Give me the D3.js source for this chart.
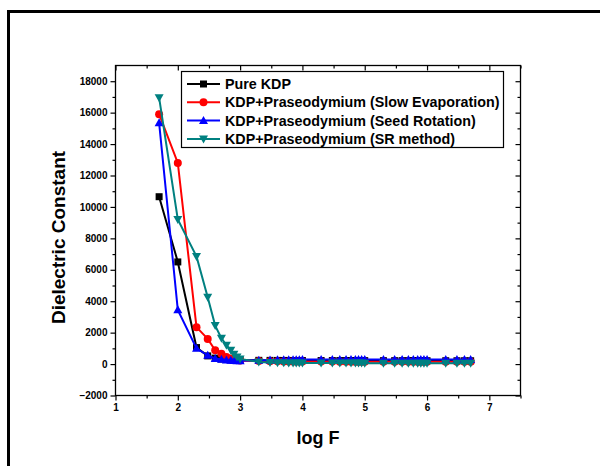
<!DOCTYPE html>
<html>
<head>
<meta charset="utf-8">
<script src="https://cdn.jsdelivr.net/npm/d3@7"></script>
<style>
  body { margin: 0; background: #fff; }
  svg { display: block; font-family: Arial, "Liberation Sans", sans-serif; }
</style>
</head>
<body>
<svg id="chart" width="600" height="466"></svg>
<script>
//  log of frequency, shared by all four samples
const logF = [1.70, 2.00, 2.30, 2.48, 2.60, 2.70, 2.78, 2.85, 2.90, 2.95, 3.00,
  3.30, 3.48, 3.60, 3.70, 3.78, 3.85, 3.90, 3.95, 4.00,
  4.30, 4.48, 4.60, 4.70, 4.78, 4.85, 4.90, 4.95, 5.00,
  5.30, 5.48, 5.60, 5.70, 5.78, 5.85, 5.90, 5.95, 6.00,
  6.30, 6.48, 6.60, 6.70];

const pureKDP = [10650, 6500, 1050, 520, 380, 320, 290, 270, 260, 250, 245,
  238, 235, 232, 230, 229, 228, 227, 226, 225,
  224, 223, 222, 221, 220, 220, 219, 219, 218,
  217, 216, 216, 215, 215, 214, 214, 213, 213,
  212, 211, 210, 210];

const slowEvap = [15900, 12800, 2350, 1600, 880, 650, 450, 350, 300, 260, 230,
  190, 178, 172, 168, 166, 164, 163, 162, 161,
  158, 156, 155, 154, 153, 153, 152, 152, 151,
  150, 149, 149, 148, 148, 147, 147, 146, 146,
  145, 144, 143, 142];

const seedRot = [15350, 3450, 1000, 560, 350, 300, 260, 240, 225, 215, 210,
  250, 265, 272, 276, 278, 280, 281, 282, 283,
  285, 286, 287, 288, 288, 289, 289, 290, 290,
  290, 291, 291, 291, 292, 292, 292, 292, 293,
  293, 293, 294, 294];

const srMethod = [16950, 9200, 6850, 4250, 2450, 1650, 1200, 880, 620, 450, 330,
  130, 100, 88, 80, 76, 73, 71, 70, 69,
  66, 65, 64, 63, 62, 62, 61, 61, 60,
  59, 58, 58, 57, 57, 56, 56, 56, 55,
  54, 54, 53, 53];

const seriesNames = ["Pure KDP", "KDP+Praseodymium (Slow Evaporation)",
  "KDP+Praseodymium (Seed Rotation)", "KDP+Praseodymium (SR method)"];
const seriesColors = ["#000000", "#ff0000", "#0000ff", "#008080"];
const seriesMarkers = ["square", "circle", "triangleUp", "triangleDown"];
const seriesValues = [pureKDP, slowEvap, seedRot, srMethod];

const xTicks = [1, 2, 3, 4, 5, 6, 7];
const xMinorTicks = [1.5, 2.5, 3.5, 4.5, 5.5, 6.5, 7.5];
const yTicks = [-2000, 0, 2000, 4000, 6000, 8000, 10000, 12000, 14000, 16000, 18000];
const yMinorTicks = [-1000, 1000, 3000, 5000, 7000, 9000, 11000, 13000, 15000, 17000];

const svg = d3.select("#chart");

//  outer frame (runs off the right and bottom of the picture)
svg.append("rect")
  .attr("x", 8.5).attr("y", 11.5)
  .attr("width", 800).attr("height", 800)
  .attr("fill", "none").attr("stroke", "#000").attr("stroke-width", 3);

const plot = {left: 115.5, right: 520.5, top: 65.5, bottom: 395.5};

const x = d3.scaleLinear().domain([1, 7.5]).range([plot.left, plot.right]);
const y = d3.scaleLinear().domain([-2000, 19000]).range([plot.bottom, plot.top]);

//  draw a marker
function marker(g, type, cx, cy, color) {
  if (type == "square") {
    g.append("rect").attr("x", cx - 3.5).attr("y", cy - 3.5)
      .attr("width", 7).attr("height", 7).attr("fill", color);
  } else if (type == "circle") {
    g.append("circle").attr("cx", cx).attr("cy", cy).attr("r", 4).attr("fill", color);
  } else if (type == "triangleUp") {
    g.append("path").attr("d", `M${cx},${cy - 4.5}L${cx + 4.5},${cy + 3.5}L${cx - 4.5},${cy + 3.5}Z`)
      .attr("fill", color);
  } else {
    g.append("path").attr("d", `M${cx},${cy + 4.5}L${cx + 4.5},${cy - 3.5}L${cx - 4.5},${cy - 3.5}Z`)
      .attr("fill", color);
  }
}

//  series
const line = d3.line().x(d => x(d[0])).y(d => y(d[1]));
seriesValues.forEach((vals, i) => {
  const pts = logF.map((f, j) => [f, vals[j]]);
  const g = svg.append("g");
  g.append("path").datum(pts).attr("d", line)
    .attr("fill", "none").attr("stroke", seriesColors[i]).attr("stroke-width", 2);
  pts.forEach(p => marker(g, seriesMarkers[i], x(p[0]), y(p[1]), seriesColors[i]));
});

//  frame of the plot
svg.append("rect")
  .attr("x", plot.left).attr("y", plot.top)
  .attr("width", plot.right - plot.left).attr("height", plot.bottom - plot.top)
  .attr("fill", "none").attr("stroke", "#000").attr("stroke-width", 1.3);

const boldLabels = g => g.selectAll("text").attr("font-size", 10).attr("font-weight", "bold")
  .attr("font-family", "Arial, 'Liberation Sans', sans-serif");

//  bottom axis (outward) and top axis (inward)
svg.append("g").attr("transform", `translate(0,${plot.bottom})`)
  .call(d3.axisBottom(x).tickValues(xTicks).tickSize(5).tickPadding(3).tickFormat(d3.format("d")))
  .call(g => g.select(".domain").remove())
  .call(boldLabels);
svg.append("g").attr("transform", `translate(0,${plot.bottom})`)
  .call(d3.axisBottom(x).tickValues(xMinorTicks).tickSize(3).tickFormat(""))
  .call(g => g.select(".domain").remove());
svg.append("g").attr("transform", `translate(0,${plot.top})`)
  .call(d3.axisBottom(x).tickValues(xTicks).tickSize(5).tickFormat(""))
  .call(g => g.select(".domain").remove());
svg.append("g").attr("transform", `translate(0,${plot.top})`)
  .call(d3.axisBottom(x).tickValues(xMinorTicks).tickSize(3).tickFormat(""))
  .call(g => g.select(".domain").remove());

//  left axis (outward) and right axis (inward)
svg.append("g").attr("transform", `translate(${plot.left},0)`)
  .call(d3.axisLeft(y).tickValues(yTicks).tickSize(5).tickPadding(3).tickFormat(d3.format("d")))
  .call(g => g.select(".domain").remove())
  .call(boldLabels);
svg.append("g").attr("transform", `translate(${plot.left},0)`)
  .call(d3.axisLeft(y).tickValues(yMinorTicks).tickSize(3).tickFormat(""))
  .call(g => g.select(".domain").remove());
svg.append("g").attr("transform", `translate(${plot.right},0)`)
  .call(d3.axisLeft(y).tickValues(yTicks).tickSize(5).tickFormat(""))
  .call(g => g.select(".domain").remove());
svg.append("g").attr("transform", `translate(${plot.right},0)`)
  .call(d3.axisLeft(y).tickValues(yMinorTicks).tickSize(3).tickFormat(""))
  .call(g => g.select(".domain").remove());

svg.selectAll(".tick line").attr("stroke-width", 1.2);

//  axis titles
svg.append("text")
  .attr("x", (plot.left + plot.right) / 2).attr("y", 444)
  .attr("text-anchor", "middle").attr("font-size", 18).attr("font-weight", "bold")
  .text("log F");
svg.append("text")
  .attr("transform", `translate(65,${(plot.top + plot.bottom) / 2 + 7}) rotate(-90)`)
  .attr("text-anchor", "middle").attr("font-size", 19).attr("font-weight", "bold")
  .text("Dielectric Constant");

//  legend
const legend = svg.append("g");
legend.append("rect")
  .attr("x", 181.5).attr("y", 71.5).attr("width", 322).attr("height", 76)
  .attr("fill", "#fff").attr("stroke", "#000").attr("stroke-width", 1.2);
seriesNames.forEach((name, i) => {
  const ly = 84 + i * 18.3;
  legend.append("line").attr("x1", 187).attr("x2", 220).attr("y1", ly).attr("y2", ly)
    .attr("stroke", seriesColors[i]).attr("stroke-width", 2);
  marker(legend, seriesMarkers[i], 203.5, ly, seriesColors[i]);
  legend.append("text").attr("x", 225).attr("y", ly + 5)
    .attr("font-size", 14.3).attr("font-weight", "bold").text(name);
});
</script>
</body>
</html>
